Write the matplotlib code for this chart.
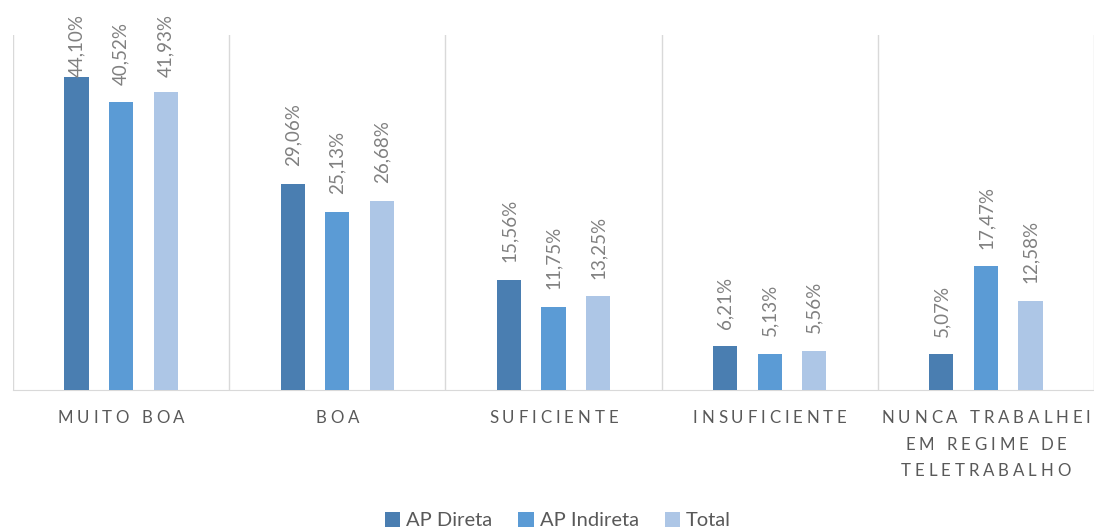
import numpy as np
import matplotlib.pyplot as plt
from matplotlib.font_manager import FontProperties
from matplotlib.textpath import TextToPath

categories = ["MUITO BOA", "BOA", "SUFICIENTE", "INSUFICIENTE",
              "NUNCA TRABALHEI\nEM REGIME DE\nTELETRABALHO"]
series_names = ["AP Direta", "AP Indireta", "Total"]
ap_direta = [44.10, 29.06, 15.56, 6.21, 5.07]
ap_indireta = [40.52, 25.13, 11.75, 5.13, 17.47]
total = [41.93, 26.68, 13.25, 5.56, 12.58]

colors = ["#4A7EB1", "#5B9BD5", "#ADC6E6"]
text_col = "#595959"
label_col = "#808080"
plt.rcParams['font.family'] = ['Lato', 'DejaVu Sans']

fig = plt.figure(figsize=(10.94, 5.29), dpi=100)
ax = fig.add_axes([13 / 1094, 1 - 390 / 529, 1 - 13 / 1094, (390 - 35) / 529])

x = np.arange(len(categories))
w = 0.112
offs = [-0.206, 0.0, 0.206]
for vals, off, col, name in zip([ap_direta, ap_indireta, total], offs, colors, series_names):
    bars = ax.bar(x + off, vals, width=w, color=col, label=name, zorder=3)
    for b, v in zip(bars, vals):
        # keep labels inside the chart area, like Excel does
        ypos = min(v + 2.45, 44.1)
        ax.text(b.get_x() + b.get_width() / 2, ypos,
                f"{v:.2f}%".replace(".", ","),
                rotation=90, ha="center", va="bottom",
                fontsize=13.5, color=label_col, clip_on=False)

ax.set_xlim(-0.5, len(categories) - 0.5)
ax.set_ylim(0, 50)
for b in np.arange(-0.5, len(categories)):
    ax.axvline(b, color="#D9D9D9", lw=1, zorder=1)
ax.set_yticks([])
ax.set_xticks(x)
ax.set_xticklabels([])
ax.tick_params(axis="x", length=0)
for s in ["top", "right", "left"]:
    ax.spines[s].set_visible(False)
ax.spines["bottom"].set_color("#D9D9D9")

# category labels with wide letter spacing, drawn glyph by glyph
prop = FontProperties(family=['Lato', 'DejaVu Sans'], size=12.2)
ttp = TextToPath()
px = fig.dpi / 72.0
spacing = 3.8  # extra pixels between letters
line_gap = 26.5


def text_width(s):
    if not s:
        return 0.0
    return ttp.get_text_width_height_descent(s, prop, ismath=False)[0] * px


for xi, cat in zip(x, categories):
    for li, line in enumerate(cat.split("\n")):
        total_w = text_width(line) + spacing * (len(line) - 1)
        for ci, ch in enumerate(line):
            dx = -total_w / 2 + text_width(line[:ci]) + spacing * ci
            ax.annotate(ch, (xi, 0), xycoords=("data", "axes fraction"),
                        xytext=(dx, -20 - li * line_gap), textcoords="offset pixels",
                        ha="left", va="top", fontproperties=prop, color=text_col,
                        annotation_clip=False)

fig.legend(loc="lower center", ncol=3, frameon=False, fontsize=14.5,
           labelcolor=text_col, handlelength=0.75, handleheight=0.75,
           handletextpad=0.3, columnspacing=1.3, bbox_to_anchor=(0.51, -0.035))

fig.savefig("out.png", dpi=100)
